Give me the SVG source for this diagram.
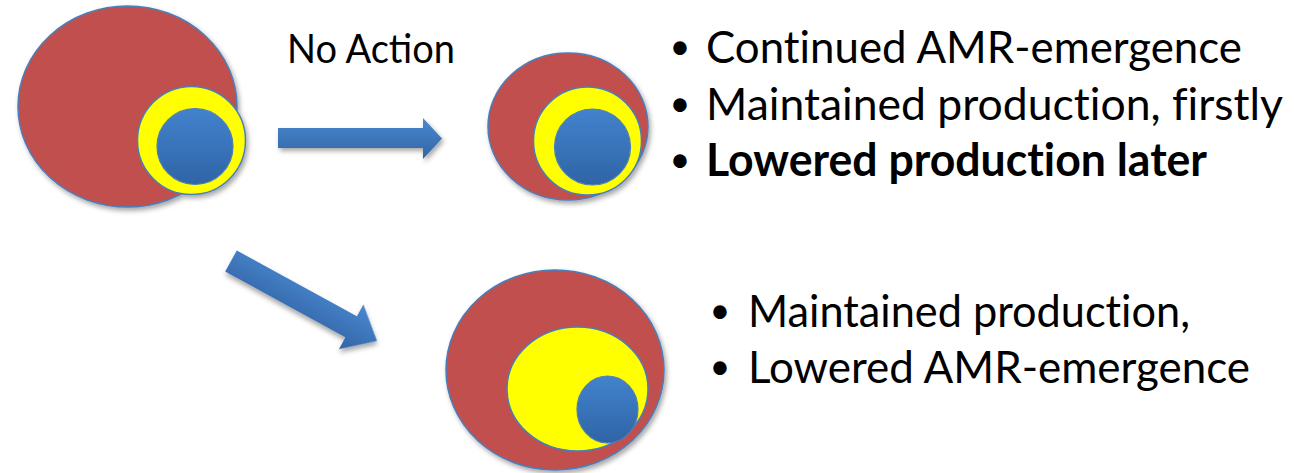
<svg xmlns="http://www.w3.org/2000/svg" width="1294" height="473" viewBox="0 0 1294 473">
  <defs>
    <linearGradient id="blueGrad" x1="0" y1="0" x2="0" y2="1">
      <stop offset="0" stop-color="#4283CD"/>
      <stop offset="1" stop-color="#2F64A6"/>
    </linearGradient>
    <linearGradient id="arrowGrad" x1="0" y1="0" x2="0" y2="1">
      <stop offset="0" stop-color="#4A88CF"/>
      <stop offset="1" stop-color="#3264A6"/>
    </linearGradient>
    <filter id="shadow" x="-20%" y="-20%" width="140%" height="140%">
      <feDropShadow dx="2" dy="3" stdDeviation="2.5" flood-color="#000" flood-opacity="0.35"/>
    </filter>
  </defs>
  <style>
    .red { fill: #C0504D; stroke: #4A7EBB; stroke-width: 1.5; }
    .yellow { fill: #FFFF00; stroke: #4A7EBB; stroke-width: 1.5; }
    .blue { fill: url(#blueGrad); stroke: #4A7EBB; stroke-width: 1.2; }
    .arrow { fill: url(#arrowGrad); }
    .txt { font-family: Lato, "Open Sans", "Liberation Sans", sans-serif; font-size: 45px; fill: #000; font-variant-ligatures: none; }
    .bul { font-family: Lato, "Open Sans", "Liberation Sans", sans-serif; font-size: 36px; fill: #000; }
    .lbl { font-family: Lato, "Open Sans", "Liberation Sans", sans-serif; font-size: 40px; fill: #000; }
    .bold { font-weight: bold; }
  </style>

  <g id="node-start" filter="url(#shadow)">
    <ellipse class="red" cx="127.5" cy="106.5" rx="109.5" ry="100.5"/>
    <circle class="yellow" cx="191.5" cy="140.5" r="54"/>
    <circle class="blue" cx="195" cy="146.5" r="38"/>
  </g>

  <g id="node-no-action-result" filter="url(#shadow)">
    <ellipse class="red" cx="568" cy="126.5" rx="80" ry="73.5"/>
    <circle class="yellow" cx="587.5" cy="141" r="54"/>
    <circle class="blue" cx="592.5" cy="147" r="38"/>
  </g>

  <g id="node-action-result" filter="url(#shadow)">
    <ellipse class="red" cx="555" cy="370" rx="109" ry="100"/>
    <ellipse class="yellow" cx="577.5" cy="389" rx="70.5" ry="62"/>
    <ellipse class="blue" cx="607.5" cy="409.5" rx="30.5" ry="33.5"/>
  </g>

  <g id="connectors">
    <path class="arrow" filter="url(#shadow)" d="M278,128 H423 V118 L442,138.5 L423,159 V148 H278 Z"/>
    <text class="lbl" x="287" y="63" textLength="168" lengthAdjust="spacingAndGlyphs">No Action</text>
    <path class="arrow" filter="url(#shadow)" transform="translate(231,261) rotate(28.7)" d="M0,-12 H137 V-25.5 L166.5,0 L137,25.5 V12 H0 Z"/>
  </g>

  <g id="text-no-action">
    <text class="bul" x="680" y="59" text-anchor="middle">•</text>
    <text class="txt" x="706" y="63" textLength="536" lengthAdjust="spacingAndGlyphs">Continued AMR-emergence</text>
    <text class="bul" x="680" y="115.5" text-anchor="middle">•</text>
    <text class="txt" x="706" y="119.5" textLength="577" lengthAdjust="spacingAndGlyphs">Maintained production, firstly</text>
    <text class="bul" x="680" y="172" text-anchor="middle">•</text>
    <text class="txt bold" x="706" y="176" textLength="501" lengthAdjust="spacingAndGlyphs">Lowered production later</text>
  </g>

  <g id="text-action">
    <text class="bul" x="720" y="323" text-anchor="middle">•</text>
    <text class="txt" x="748" y="327" textLength="442" lengthAdjust="spacingAndGlyphs">Maintained production,</text>
    <text class="bul" x="720" y="379" text-anchor="middle">•</text>
    <text class="txt" x="748" y="383" textLength="502" lengthAdjust="spacingAndGlyphs">Lowered AMR-emergence</text>
  </g>
</svg>
